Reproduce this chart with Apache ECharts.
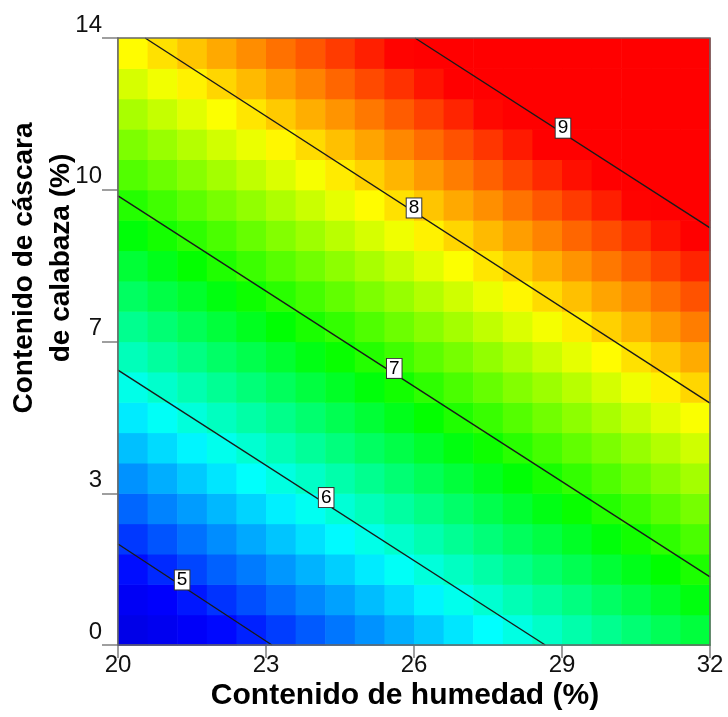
<!DOCTYPE html>
<html>
<head>
<meta charset="utf-8">
<script src="https://cdn.jsdelivr.net/npm/echarts@6/dist/echarts.min.js"></script>
<style>
html,body{margin:0;padding:0;background:#fff;}
#chart{width:728px;height:717px;}
</style>
</head>
<body>
<div id="chart"></div>
<script>
// ---- data ----
const xCells = [20.3,20.9,21.5,22.1,22.7,23.3,23.9,24.5,25.1,25.7,26.3,26.9,27.5,28.1,28.7,29.3,29.9,30.5,31.1,31.7];
const yCells = [0.35,1.05,1.75,2.45,3.15,3.85,4.55,5.25,5.95,6.65,7.35,8.05,8.75,9.45,10.15,10.85,11.55,12.25,12.95,13.65];
// rows from bottom (y=0.35) to top (y=13.65); columns left to right
const zRows = [
[4.70,4.81,4.92,5.03,5.13,5.24,5.35,5.46,5.57,5.68,5.79,5.90,6.00,6.11,6.22,6.33,6.44,6.55,6.66,6.76],
[4.87,4.98,5.09,5.20,5.31,5.42,5.53,5.63,5.74,5.85,5.96,6.07,6.18,6.29,6.39,6.50,6.61,6.72,6.83,6.94],
[5.05,5.16,5.27,5.38,5.48,5.59,5.70,5.81,5.92,6.03,6.14,6.24,6.35,6.46,6.57,6.68,6.79,6.90,7.00,7.11],
[5.22,5.33,5.44,5.55,5.66,5.77,5.88,5.98,6.09,6.20,6.31,6.42,6.53,6.64,6.74,6.85,6.96,7.07,7.18,7.29],
[5.40,5.51,5.61,5.72,5.83,5.94,6.05,6.16,6.27,6.37,6.48,6.59,6.70,6.81,6.92,7.03,7.14,7.24,7.35,7.46],
[5.57,5.68,5.79,5.90,6.01,6.12,6.22,6.33,6.44,6.55,6.66,6.77,6.88,6.98,7.09,7.20,7.31,7.42,7.53,7.64],
[5.75,5.86,5.96,6.07,6.18,6.29,6.40,6.51,6.62,6.72,6.83,6.94,7.05,7.16,7.27,7.38,7.48,7.59,7.70,7.81],
[5.92,6.03,6.14,6.25,6.35,6.46,6.57,6.68,6.79,6.90,7.01,7.12,7.22,7.33,7.44,7.55,7.66,7.77,7.88,7.98],
[6.09,6.20,6.31,6.42,6.53,6.64,6.75,6.85,6.96,7.07,7.18,7.29,7.40,7.51,7.61,7.72,7.83,7.94,8.05,8.16],
[6.27,6.38,6.49,6.60,6.70,6.81,6.92,7.03,7.14,7.25,7.36,7.46,7.57,7.68,7.79,7.90,8.01,8.12,8.22,8.33],
[6.44,6.55,6.66,6.77,6.88,6.99,7.10,7.20,7.31,7.42,7.53,7.64,7.75,7.86,7.96,8.07,8.18,8.29,8.40,8.51],
[6.62,6.73,6.83,6.94,7.05,7.16,7.27,7.38,7.49,7.59,7.70,7.81,7.92,8.03,8.14,8.25,8.36,8.46,8.57,8.68],
[6.79,6.90,7.01,7.12,7.23,7.34,7.44,7.55,7.66,7.77,7.88,7.99,8.10,8.20,8.31,8.42,8.53,8.64,8.75,8.86],
[6.97,7.08,7.18,7.29,7.40,7.51,7.62,7.73,7.84,7.94,8.05,8.16,8.27,8.38,8.49,8.60,8.70,8.81,8.92,9.03],
[7.14,7.25,7.36,7.47,7.57,7.68,7.79,7.90,8.01,8.12,8.23,8.34,8.44,8.55,8.66,8.77,8.88,8.99,9.10,9.20],
[7.32,7.42,7.53,7.64,7.75,7.86,7.97,8.08,8.18,8.29,8.40,8.51,8.62,8.73,8.84,8.94,9.05,9.16,9.27,9.38],
[7.49,7.60,7.71,7.82,7.92,8.03,8.14,8.25,8.36,8.47,8.58,8.68,8.79,8.90,9.01,9.12,9.23,9.34,9.44,9.55],
[7.66,7.77,7.88,7.99,8.10,8.21,8.32,8.42,8.53,8.64,8.75,8.86,8.97,9.08,9.18,9.29,9.40,9.51,9.62,9.73],
[7.84,7.95,8.05,8.16,8.27,8.38,8.49,8.60,8.71,8.81,8.92,9.03,9.14,9.25,9.36,9.47,9.58,9.68,9.79,9.90],
[8.01,8.12,8.23,8.34,8.45,8.56,8.66,8.77,8.88,8.99,9.10,9.21,9.32,9.42,9.53,9.64,9.75,9.86,9.97,10.08]
];
const contourLevels = [5, 6, 7, 8, 9];
const contourStart = [[20, 2.33], [20, 6.34], [20, 10.36], [20.55, 14], [26.02, 14]];
const contourEnd   = [[23.12, 0], [28.66, 0], [32, 1.57], [32, 5.58], [32, 9.62]];
const contourLabelAt = [[21.30, 1.50], [24.22, 3.40], [25.60, 6.38], [26.00, 10.08], [29.02, 11.92]];
const xTicks = [20, 23, 26, 29, 32];
const yTickLabels = ['0', '3', '7', '10', '14'];
const xTitle = 'Contenido de humedad (%)';
const yTitle = ['Contenido de cáscara', 'de calabaza (%)'];

// ---- build ----
const cellData = [];
for (let j = 0; j < yCells.length; j++) {
  for (let i = 0; i < xCells.length; i++) {
    cellData.push([xCells[i], yCells[j], zRows[j][i]]);
  }
}
const halfW = (xCells[1] - xCells[0]) / 2;
const halfH = (yCells[1] - yCells[0]) / 2;

const series = [{
  type: 'custom',
  data: cellData,
  encode: { x: 0, y: 1 },
  renderItem: function (params, api) {
    const x = api.value(0), y = api.value(1);
    const p0 = api.coord([x - halfW, y + halfH]);
    const p1 = api.coord([x + halfW, y - halfH]);
    return {
      type: 'rect',
      shape: { x: p0[0], y: p0[1], width: p1[0] - p0[0] + 0.6, height: p1[1] - p0[1] + 0.6 },
      style: { fill: api.visual('color') }
    };
  },
  z: 1
}];
contourLevels.forEach(function (lv, k) {
  series.push({
    type: 'line',
    data: [contourStart[k], contourEnd[k]],
    symbol: 'none',
    lineStyle: { color: '#1a1a1a', width: 1.4 },
    z: 3,
    silent: true
  });
  series.push({
    type: 'scatter',
    data: [contourLabelAt[k].concat([lv])],
    symbolSize: 1,
    itemStyle: { opacity: 1, color: 'rgba(0,0,0,0)' },
    z: 5,
    silent: true,
    label: {
      show: true,
      position: 'inside',
      formatter: String(lv),
      fontFamily: 'Liberation Sans, Arial, sans-serif',
      fontSize: 19,
      color: '#000',
      opacity: 1,
      backgroundColor: '#ffffff',
      borderColor: '#333',
      borderWidth: 1,
      padding: [1, 2, -1, 2]
    }
  });
});

const chart = echarts.init(document.getElementById('chart'), null, { renderer: 'canvas' });
chart.setOption({
  backgroundColor: '#fff',
  animation: false,
  grid: { left: 118, top: 38, width: 592, height: 607, show: false },
  visualMap: {
    show: false,
    type: 'continuous',
    seriesIndex: 0,
    dimension: 2,
    min: 4.5,
    max: 10.5,
    inRange: {
      color: ['#0000d8', '#0000ff', '#0080ff', '#00ffff', '#00ff80', '#00ff00', '#80ff00',
              '#ffff00', '#ff8000', '#ff0000', '#ff0000', '#ff0000', '#ff0000']
    }
  },
  xAxis: {
    type: 'value', min: 20, max: 32, interval: 3,
    axisLine: { show: true, onZero: false, lineStyle: { color: '#808080', width: 1.5 } },
    axisTick: { show: true, length: 13, lineStyle: { color: '#808080', width: 1.5 } },
    splitLine: { show: false },
    axisLabel: {
      margin: 8, fontSize: 24, color: '#111', fontFamily: 'Liberation Sans, Arial, sans-serif',
      formatter: function (v) { return xTicks.indexOf(v) >= 0 ? String(v) : ''; }
    }
  },
  yAxis: {
    type: 'value', min: 0, max: 14, interval: 3.5,
    axisLine: { show: true, onZero: false, lineStyle: { color: '#808080', width: 1.5 } },
    axisTick: { show: true, length: 16, lineStyle: { color: '#808080', width: 1.5 } },
    splitLine: { show: false },
    axisLabel: {
      margin: 16, fontSize: 24, color: '#111', verticalAlign: 'bottom', padding: [0, 0, 1, 0],
      fontFamily: 'Liberation Sans, Arial, sans-serif',
      formatter: function (v) { return yTickLabels[Math.round(v / 3.5)]; }
    }
  },
  graphic: [
    { type: 'rect', shape: { x: 118, y: 38, width: 592, height: 607 }, style: { fill: 'none', stroke: '#666', lineWidth: 1.5 }, z: 10, silent: true },
    { type: 'text', x: 405, y: 696, style: { text: xTitle, font: 'bold 30px "Liberation Sans", Arial, sans-serif', fill: '#000', textAlign: 'center', textVerticalAlign: 'middle' } },
    { type: 'text', x: 24, y: 268, rotation: Math.PI / 2, style: { text: yTitle[0], font: 'bold 28px "Liberation Sans", Arial, sans-serif', fill: '#000', textAlign: 'center', textVerticalAlign: 'middle' } },
    { type: 'text', x: 61, y: 258, rotation: Math.PI / 2, style: { text: yTitle[1], font: 'bold 28px "Liberation Sans", Arial, sans-serif', fill: '#000', textAlign: 'center', textVerticalAlign: 'middle' } }
  ],
  series: series
});
</script>
</body>
</html>
